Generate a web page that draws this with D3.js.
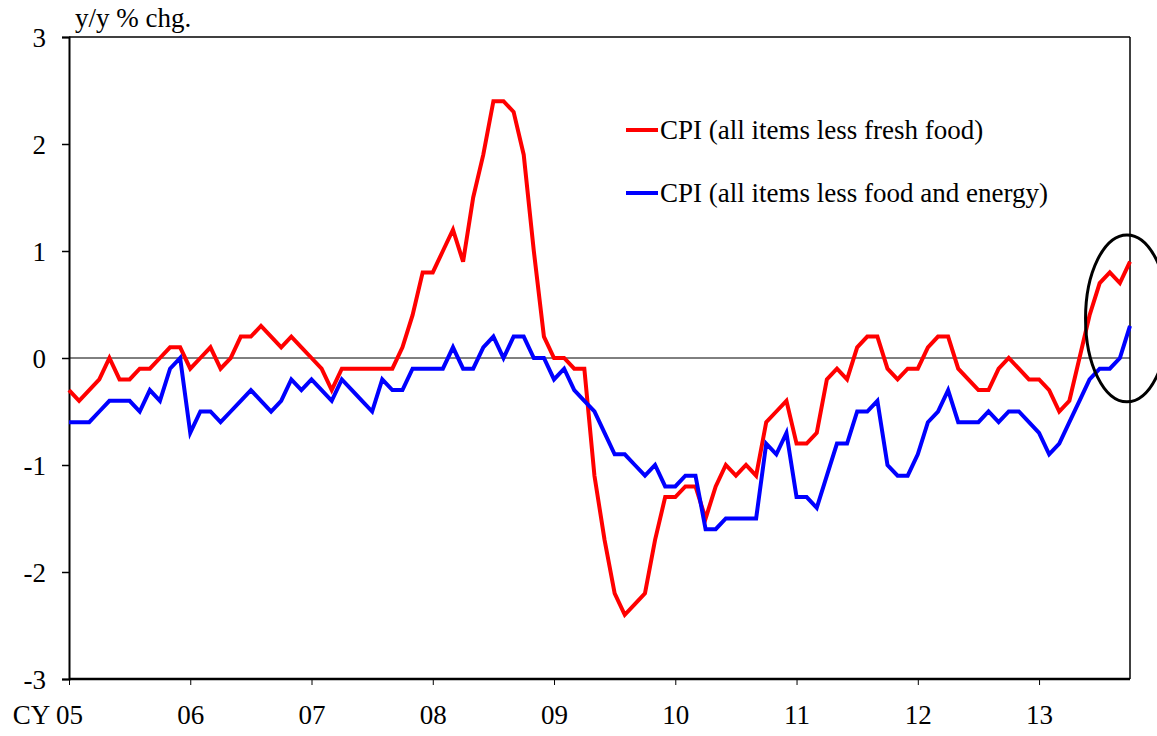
<!DOCTYPE html>
<html>
<head>
<meta charset="utf-8">
<script src="https://cdn.jsdelivr.net/npm/d3@7"></script>
<style>
    body { margin: 0; background: #fff; }
    svg text { font-family: "Liberation Serif", "Times New Roman", serif; font-size: 27px; fill: #000; }
</style>
</head>
<body>
<svg id="chart" width="1157" height="736"></svg>
<script>
// data: monthly, Jan 2005 .. Oct 2013 (y/y % chg.)
var yearLabels = ["CY 05", "06", "07", "08", "09", "10", "11", "12", "13"];
var yTicks = [-3, -2, -1, 0, 1, 2, 3];
var seriesNames = ["CPI (all items less fresh food)", "CPI (all items less food and energy)"];

var lessFreshFood = [
    -0.3, -0.4, -0.3, -0.2, 0.0, -0.2, -0.2, -0.1, -0.1, 0.0, 0.1, 0.1,
    -0.1, 0.0, 0.1, -0.1, 0.0, 0.2, 0.2, 0.3, 0.2, 0.1, 0.2, 0.1,
    0.0, -0.1, -0.3, -0.1, -0.1, -0.1, -0.1, -0.1, -0.1, 0.1, 0.4, 0.8,
    0.8, 1.0, 1.2, 0.9, 1.5, 1.9, 2.4, 2.4, 2.3, 1.9, 1.0, 0.2,
    0.0, 0.0, -0.1, -0.1, -1.1, -1.7, -2.2, -2.4, -2.3, -2.2, -1.7, -1.3,
    -1.3, -1.2, -1.2, -1.5, -1.2, -1.0, -1.1, -1.0, -1.1, -0.6, -0.5, -0.4,
    -0.8, -0.8, -0.7, -0.2, -0.1, -0.2, 0.1, 0.2, 0.2, -0.1, -0.2, -0.1,
    -0.1, 0.1, 0.2, 0.2, -0.1, -0.2, -0.3, -0.3, -0.1, 0.0, -0.1, -0.2,
    -0.2, -0.3, -0.5, -0.4, 0.0, 0.4, 0.7, 0.8, 0.7, 0.9
];

var lessFoodEnergy = [
    -0.6, -0.6, -0.6, -0.5, -0.4, -0.4, -0.4, -0.5, -0.3, -0.4, -0.1, 0.0,
    -0.7, -0.5, -0.5, -0.6, -0.5, -0.4, -0.3, -0.4, -0.5, -0.4, -0.2, -0.3,
    -0.2, -0.3, -0.4, -0.2, -0.3, -0.4, -0.5, -0.2, -0.3, -0.3, -0.1, -0.1,
    -0.1, -0.1, 0.1, -0.1, -0.1, 0.1, 0.2, 0.0, 0.2, 0.2, 0.0, 0.0,
    -0.2, -0.1, -0.3, -0.4, -0.5, -0.7, -0.9, -0.9, -1.0, -1.1, -1.0, -1.2,
    -1.2, -1.1, -1.1, -1.6, -1.6, -1.5, -1.5, -1.5, -1.5, -0.8, -0.9, -0.7,
    -1.3, -1.3, -1.4, -1.1, -0.8, -0.8, -0.5, -0.5, -0.4, -1.0, -1.1, -1.1,
    -0.9, -0.6, -0.5, -0.3, -0.6, -0.6, -0.6, -0.5, -0.6, -0.5, -0.5, -0.6,
    -0.7, -0.9, -0.8, -0.6, -0.4, -0.2, -0.1, -0.1, 0.0, 0.3
];

// the circled area at the end (month index range, value range)
var circleMonths = [100.6, 108.8];
var circleValues = [-0.41, 1.15];

var colors = ["#ff0000", "#0000ff"];

// layout
var margin = {top: 37, right: 27, bottom: 57, left: 69};
var width = 1157 - margin.left - margin.right;
var height = 736 - margin.top - margin.bottom;

var svg = d3.select("#chart");
var g = svg.append("g").attr("transform", "translate(" + margin.left + "," + margin.top + ")");

var x = d3.scaleLinear().domain([0, lessFreshFood.length - 1]).range([0, width]);
var y = d3.scaleLinear().domain([-3, 3]).range([height, 0]);

// frame: top and right
g.append("line").attr("x1", 0).attr("x2", width).attr("y1", 0).attr("y2", 0)
    .attr("stroke", "#000").attr("stroke-width", 1.5);
g.append("line").attr("x1", width).attr("x2", width).attr("y1", 0).attr("y2", height)
    .attr("stroke", "#000").attr("stroke-width", 1.5);

// zero line
g.append("line").attr("x1", 0).attr("x2", width).attr("y1", y(0)).attr("y2", y(0))
    .attr("stroke", "#000").attr("stroke-width", 1);

// y axis (plain hyphen for minus, like the original)
var yAxis = g.append("g")
    .call(d3.axisLeft(y).tickValues(yTicks).tickSize(7).tickPadding(16).tickFormat(function(d) { return String(d); }));
yAxis.select(".domain").attr("stroke-width", 2);
yAxis.selectAll(".tick line").attr("stroke-width", 1.5);
yAxis.selectAll("text").attr("font-size", null).attr("font-family", null).attr("dy", "0.35em");

// x axis, ticks every 12 months
var yearTicks = d3.range(0, lessFreshFood.length, 12);
var xAxis = g.append("g")
    .attr("transform", "translate(0," + height + ")")
    .call(d3.axisBottom(x).tickValues(yearTicks).tickSize(6).tickPadding(20).tickFormat(function(d, i) { return yearLabels[i]; }));
xAxis.select(".domain").attr("stroke-width", 2.5).attr("d", "M0,0H" + width);
xAxis.selectAll(".tick line").attr("stroke-width", 1);
xAxis.selectAll("text").attr("font-size", null).attr("font-family", null).attr("dy", "0.71em");

// keep "05" centred on the first tick, "CY" hangs to the left
xAxis.selectAll(".tick text").filter(function(d, i) { return i === 0; })
    .each(function() {
        var full = this.getComputedTextLength();
        var t = d3.select(this);
        t.text("05");
        var part = this.getComputedTextLength();
        t.text(yearLabels[0]);
        t.attr("dx", -(full - part) / 2);
    });

// lines
var line = d3.line().x(function(d, i) { return x(i); }).y(function(d) { return y(d); });

[lessFreshFood, lessFoodEnergy].forEach(function(s, k) {
    g.append("path")
        .datum(s)
        .attr("fill", "none")
        .attr("stroke", colors[k])
        .attr("stroke-width", 4)
        .attr("stroke-linejoin", "miter")
        .attr("d", line);
});

// title
svg.append("text").attr("x", margin.left + 6).attr("y", 27).text("y/y % chg.");

// legend
var legend = g.append("g").attr("transform", "translate(557,93)");
seriesNames.forEach(function(name, k) {
    var row = legend.append("g").attr("transform", "translate(0," + (k * 63) + ")");
    row.append("line").attr("x1", 0).attr("x2", 32).attr("y1", 0).attr("y2", 0)
        .attr("stroke", colors[k]).attr("stroke-width", 4);
    row.append("text").attr("x", 34).attr("y", 0).attr("dy", "0.35em").text(name);
});

// ellipse around the latest months
g.append("ellipse")
    .attr("cx", (x(circleMonths[0]) + x(circleMonths[1])) / 2)
    .attr("cy", (y(circleValues[0]) + y(circleValues[1])) / 2)
    .attr("rx", (x(circleMonths[1]) - x(circleMonths[0])) / 2)
    .attr("ry", (y(circleValues[0]) - y(circleValues[1])) / 2)
    .attr("fill", "none")
    .attr("stroke", "#000")
    .attr("stroke-width", 3);
</script>
</body>
</html>
